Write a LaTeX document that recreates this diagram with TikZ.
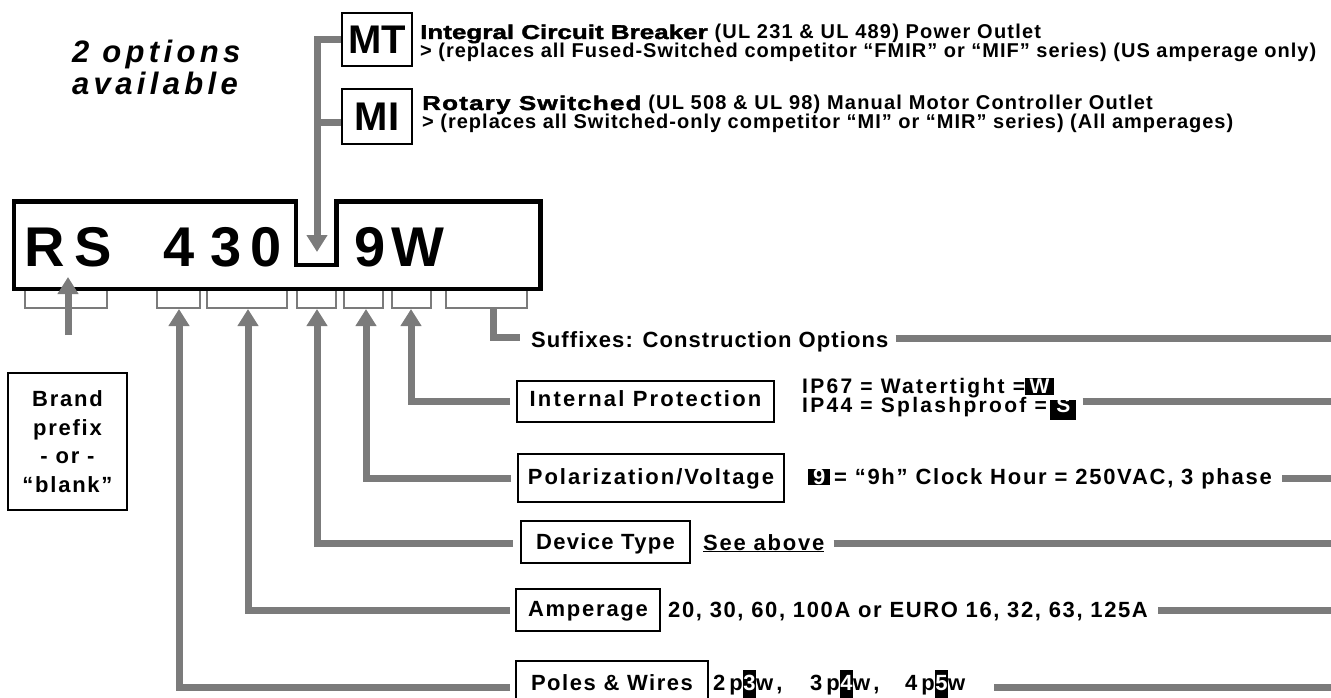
\documentclass[tikz,border=0pt]{standalone}
\usepackage{fontspec}
\setmainfont{Liberation Sans}
\newfontfamily\heavyfont{Liberation Sans}[UprightFont={* Bold},FakeBold=2,FakeStretch=1.3]
\usetikzlibrary{arrows.meta}
\definecolor{cgray}{RGB}{123,123,123}
\newcommand{\bt}[2]{\fontsize{#1}{#1}\selectfont\bfseries\addfontfeatures{LetterSpace=#2}}
% highlight: #1 text, #2 height above baseline, #3 depth, #4 side pad
\newcommand{\hl}[4]{{\setbox0\hbox{#1}\kern#4\rlap{\kern-#4\rule[-#3]{\dimexpr\wd0+#4+#4\relax}{\dimexpr#2+#3\relax}}\textcolor{white}{\box0}\kern#4}}
\begin{document}
\begin{tikzpicture}[x=1pt,y=-1pt,
  conn/.style={draw=cgray,line width=7pt},
  arr/.style={conn,-{Triangle[width=20pt,length=17pt]}},
  tickbox/.style={draw=cgray,line width=2pt},
  lbl/.style={draw=black,line width=2pt,inner sep=0pt,text height=15.75pt},
  txt/.style={inner sep=0pt,anchor=base west},
  code/.style={inner sep=0pt,anchor=base,font=\fontsize{56}{60}\selectfont\bfseries},
  big/.style={draw=black,line width=2pt,inner sep=0pt,font=\fontsize{40}{40}\selectfont\bfseries,text height=29pt,text depth=0pt},
  title/.style={txt,font=\fontsize{31}{31}\selectfont\bfseries\itshape\addfontfeatures{LetterSpace=14}},
]
\useasboundingbox (0,0) rectangle (1331,698);

% title
\node[title] (t1) at (72,63) {2 options};
\node[title] (t2) at (72,95) {available};

% MT / MI boxes
\node[big,minimum width=70pt,minimum height=53pt] (MT) at (377,39.5) {MT};
\node[big,minimum width=70pt,minimum height=55pt] (MI) at (377,116.5) {MI};

\node[txt,font=\bt{20}{6}] (mt1) at (420,39) {{\heavyfont Integral Circuit Breaker} (UL 231 \& UL 489) Power Outlet};
\node[txt,font=\bt{20}{5}] (mt2) at (420,58) {> (replaces all Fused-Switched competitor “FMIR” or “MIF” series) (US amperage only)};
\node[txt,font=\bt{20}{6}] (mi1) at (422,110) {{\heavyfont\addfontfeatures{LetterSpace=6}Rotary Switched} (UL 508 \& UL 98) Manual Motor Controller Outlet};
\node[txt,font=\bt{20}{5}] (mi2) at (422,129) {> (replaces all Switched-only competitor “MI” or “MIR” series) (All amperages)};

% small boxes under the code
\foreach \a/\b in {25/107,157/200,207/287,297/336,344/383,392/431,446/527}
  \draw[tickbox] (\a,289) -- (\a,308) -- (\b,308) -- (\b,289);

% main code box
\draw[line width=4.5pt] (14,201.7) -- (296,201.7) -- (296,265) -- (336.7,265) -- (336.7,201.7) -- (540.7,201.7) -- (540.7,289) -- (14,289) -- cycle;
\node[code] (cR) at (45,266) {R};
\node[code] (cS) at (93.5,266) {S};
\node[code] (c4) at (179,266) {4};
\node[code] (c3) at (226.5,266) {3};
\node[code] (c0) at (266.5,266) {0};
\node[code] (c9) at (370,266) {9};
\node[code] (cW) at (417.5,266) {W};

% coordinates
\coordinate (ntip) at (317,252);
\coordinate (bS) at (68,335);
\coordinate (bT) at (68,277);
\coordinate (b2) at (179,309);
\coordinate (b3) at (248,309);
\coordinate (b4) at (317,309);
\coordinate (b5) at (366,309);
\coordinate (b6) at (411,309);
\coordinate (b7) at (493,308);
\coordinate (sfxL) at (520,337);

% brand box
\node[draw=black,line width=2pt,minimum width=119pt,minimum height=137pt,inner sep=0pt,align=center,font=\fontsize{22}{28.5}\selectfont\bfseries\addfontfeatures{LetterSpace=8}] (brand) at (67.5,441.4) {Brand\\prefix\\- or -\\“blank”};

% label boxes
\node[lbl,minimum width=257pt,minimum height=41pt,text depth=5.35pt,font=\bt{22}{10}] (IP) at (645.5,401.5) {Internal Protection};
\node[lbl,minimum width=266pt,minimum height=48pt,text depth=3.75pt,font=\bt{22}{9}] (POL) at (651,478) {Polarization/Voltage};
\node[lbl,minimum width=169pt,minimum height=42pt,text depth=0pt,font=\bt{22}{6}] (DEV) at (605.5,542) {Device Type};
\node[lbl,minimum width=144pt,minimum height=42pt,text depth=2.35pt,font=\bt{22}{8}] (AMP) at (588,610) {Amperage};
\node[lbl,minimum width=192pt,minimum height=38pt,text height=21.4pt,text depth=0pt,font=\bt{22}{7}] (PW) at (612,680) {Poles \& Wires};

% right texts
\node[txt,font=\bt{22}{5}] (sfx) at (531,347) {Suffixes: Construction Options};
\node[txt,font=\bt{21}{11}] (ip1) at (802,393) {IP67 = Watertight =\hl{W}{15pt}{2pt}{4.5pt}};
\node[txt,font=\bt{21}{11}] (ip2) at (802,412.5) {IP44 = Splashproof =\,\hl{S}{13pt}{7pt}{6pt}};
\node[txt,font=\bt{22}{7.9}] (pol) at (808,484) {\hl{9}{15pt}{1pt}{5pt}\,= “9h” Clock Hour = 250VAC, 3 phase};
\node[txt,font=\bt{22}{8}] (dev) at (703,550) {\underline{See above}};
\node[txt,font=\bt{22}{7.4}] (amp) at (668,617) {20, 30, 60, 100A or EURO 16, 32, 63, 125A};
\node[txt,font=\bt{22}{18}] (pwa) at (713,690.5) {2p\hl{3}{21pt}{8pt}{0.5pt}w,};
\node[txt,font=\bt{22}{18}] (pwb) at (810,690.5) {3p\hl{4}{21pt}{8pt}{0.5pt}w,};
\node[txt,font=\bt{22}{18}] (pwc) at (905,690.5) {4p\hl{5}{21pt}{8pt}{0.5pt}w};

% right edge coordinates
\coordinate (eS) at (1331,338);
\coordinate (eI) at (1331,401);
\coordinate (eP) at (1331,478);
\coordinate (eD) at (1331,543);
\coordinate (eA) at (1331,610);
\coordinate (eW) at (1331,687);

% connectors
\draw[arr] (MT.west) -| (ntip);
\draw[conn] ([yshift=-6.5pt]MI.west) -- ([yshift=-6.5pt]MI.west -| ntip);
\draw[arr] (bS) -- (bT);
\draw[arr,shorten <=5pt] ([yshift=-7pt]PW.west) -| (b2);
\draw[arr,shorten <=5pt] (AMP.west) -| (b3);
\draw[arr,shorten <=7pt] ([yshift=-1pt]DEV.west) -| (b4);
\draw[arr,shorten <=6pt] (POL.west) -| (b5);
\draw[arr,shorten <=6pt] (IP.west) -| (b6);
\draw[conn] (b7) |- (sfxL);

\draw[conn] ([xshift=7pt]sfx.east |- eS) -- (eS);
\draw[conn] ([xshift=6pt]ip2.east |- eI) -- (eI);
\draw[conn] ([xshift=10pt]pol.east |- eP) -- (eP);
\draw[conn] ([xshift=9pt]dev.east |- eD) -- (eD);
\draw[conn] ([xshift=10pt]amp.east |- eA) -- (eA);
\draw[conn] ([xshift=29pt]pwc.east |- eW) -- (eW);
\end{tikzpicture}
\end{document}
